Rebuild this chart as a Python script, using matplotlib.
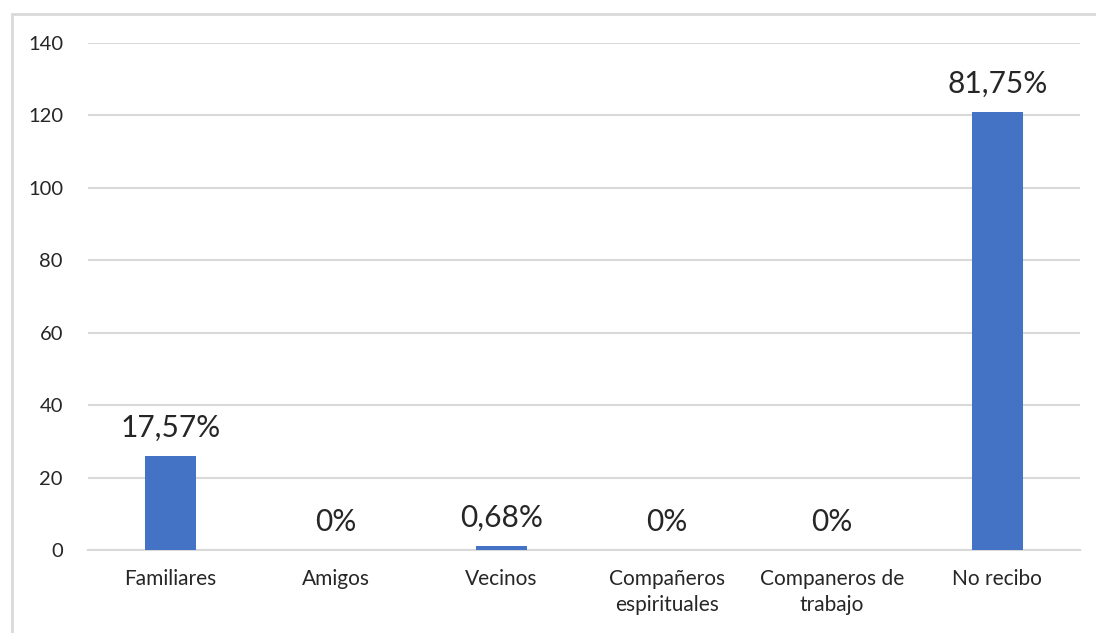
import matplotlib.pyplot as plt
import matplotlib.patches as mpatches
import numpy as np

plt.rcParams['font.family'] = ['Lato', 'DejaVu Sans']

# Datos
categorias = ['Familiares', 'Amigos', 'Vecinos', 'Compañeros\nespirituales',
              'Companeros de\ntrabajo', 'No recibo']
valores = [26, 0, 1, 0, 0, 121]
etiquetas = ['17,57%', '0%', '0,68%', '0%', '0%', '81,75%']
y_ticks = [0, 20, 40, 60, 80, 100, 120, 140]

AZUL = '#4472C4'
GRIS = '#d9d9d9'

fig = plt.figure(figsize=(10.96, 6.33), dpi=100)
ax = fig.add_axes([88 / 1096, 1 - 550 / 633, (1080 - 88) / 1096, (550 - 43) / 633])

# Marco del gráfico
marco = mpatches.Rectangle((12 / 1096, -0.05), 1.1, 1 - 14 / 633 + 0.05,
                           transform=fig.transFigure, fill=False,
                           edgecolor=GRIS, linewidth=2, zorder=0)
fig.patches.append(marco)

x = np.arange(len(categorias))
ax.bar(x, valores, width=0.31, color=AZUL, zorder=3)

for xi, v, lab in zip(x, valores, etiquetas):
    ax.annotate(lab, (xi, v), xytext=(0, 14), textcoords='offset points',
                ha='center', va='baseline', fontsize=21.5, color='#262626')

ax.set_xlim(-0.5, len(categorias) - 0.5)
ax.set_ylim(0, 140)
ax.set_yticks(y_ticks)
ax.set_xticks(x)
ax.set_xticklabels(categorias, fontsize=15, color='#262626', linespacing=1.35)
ax.tick_params(axis='y', labelsize=14.5, labelcolor='#262626', length=0, pad=18)
ax.tick_params(axis='x', length=0, pad=14)

ax.yaxis.grid(True, color=GRIS, linewidth=1.5, zorder=0)
ax.set_axisbelow(True)
for s in ['top', 'right', 'left']:
    ax.spines[s].set_visible(False)
ax.spines['bottom'].set_color(GRIS)
ax.spines['bottom'].set_linewidth(1.5)

fig.savefig('out.png', dpi=100)
